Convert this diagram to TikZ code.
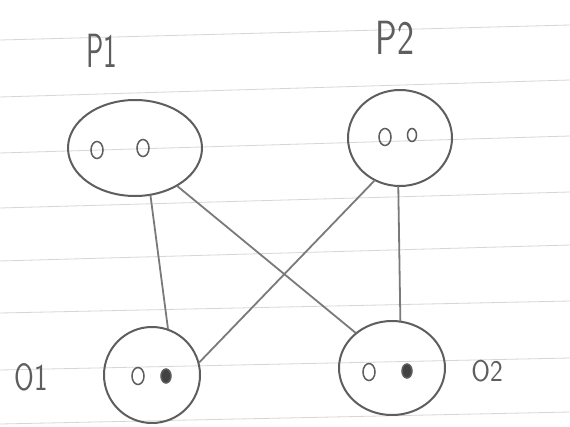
\documentclass[tikz,border=0pt]{standalone}
\usepackage{graphicx}
\usetikzlibrary{shapes.geometric}
\definecolor{pencil}{HTML}{5E5E5E}
\definecolor{pencillight}{HTML}{7A7A7A}
\definecolor{rule}{HTML}{D6D6D6}
\tikzset{
  blob/.style={ellipse, draw=pencil, line width=2pt, inner sep=0pt},
  port/.style={ellipse, draw=pencil, line width=1.5pt, inner sep=0pt, minimum width=12pt, minimum height=17pt},
  portfull/.style={port, fill=pencil!70!black, minimum width=10pt, minimum height=14pt},
  link/.style={draw=pencillight, line width=1.8pt, line cap=round},
  lbl/.style={text=pencil, font=\sffamily\fontsize{48}{48}\selectfont, inner sep=0pt},
  ruled/.style={draw=rule, line width=0.8pt}
}
\begin{document}
\begin{tikzpicture}[x=1pt, y=-1pt]
\useasboundingbox (0,0) rectangle (570,426);
\fill[white] (0,0) rectangle (570,426);
% ruled paper
\foreach \l/\r in {40/25, 97/80, 153/136, 208/192, 261/245, 313/301, 370/358, 424/412}
  \draw[ruled] (0,\l) -- (570,\r);
% labels
\node[lbl] (lp1) at (102,51) {\scalebox{0.6}[1]{P1}};
\node[lbl] (lp2) at (395,38) {\scalebox{0.75}[1]{P2}};
\node[lbl, font=\sffamily\fontsize{38}{38}\selectfont] (lo1) at (31,377) {\scalebox{0.75}[1]{O1}};
\node[lbl, font=\sffamily\fontsize{30}{30}\selectfont] (lo2) at (487,371) {\scalebox{0.9}[1]{O2}};
% nodes
\node[blob, minimum width=134pt, minimum height=96pt] (p1) at (135,148) {};
\node[blob, minimum width=104pt, minimum height=96pt] (p2) at (400,138) {};
\node[blob, minimum width=96pt, minimum height=96pt] (o1) at (152,375) {};
\node[blob, minimum width=106pt, minimum height=94pt] (o2) at (392,368) {};
% ports
\node[port] (p1a) at (97,150) {};
\node[port] (p1b) at (143,148) {};
\node[port] (p2a) at (385,137) {};
\node[port, minimum width=9pt, minimum height=13pt] (p2b) at (412,135) {};
\node[port] (o1a) at (138,376) {};
\node[portfull] (o1b) at (166,376) {};
\node[port] (o2a) at (369,372) {};
\node[portfull] (o2b) at (407,371) {};
% connectors
\draw[link] (p1.-72) -- (o1.71);
\draw[link] (p1.-42) -- (o2.136);
\draw[link] (p2.-121) -- (o1.15);
\draw[link] (p2.-92) -- (o2.80);
\end{tikzpicture}
\end{document}
